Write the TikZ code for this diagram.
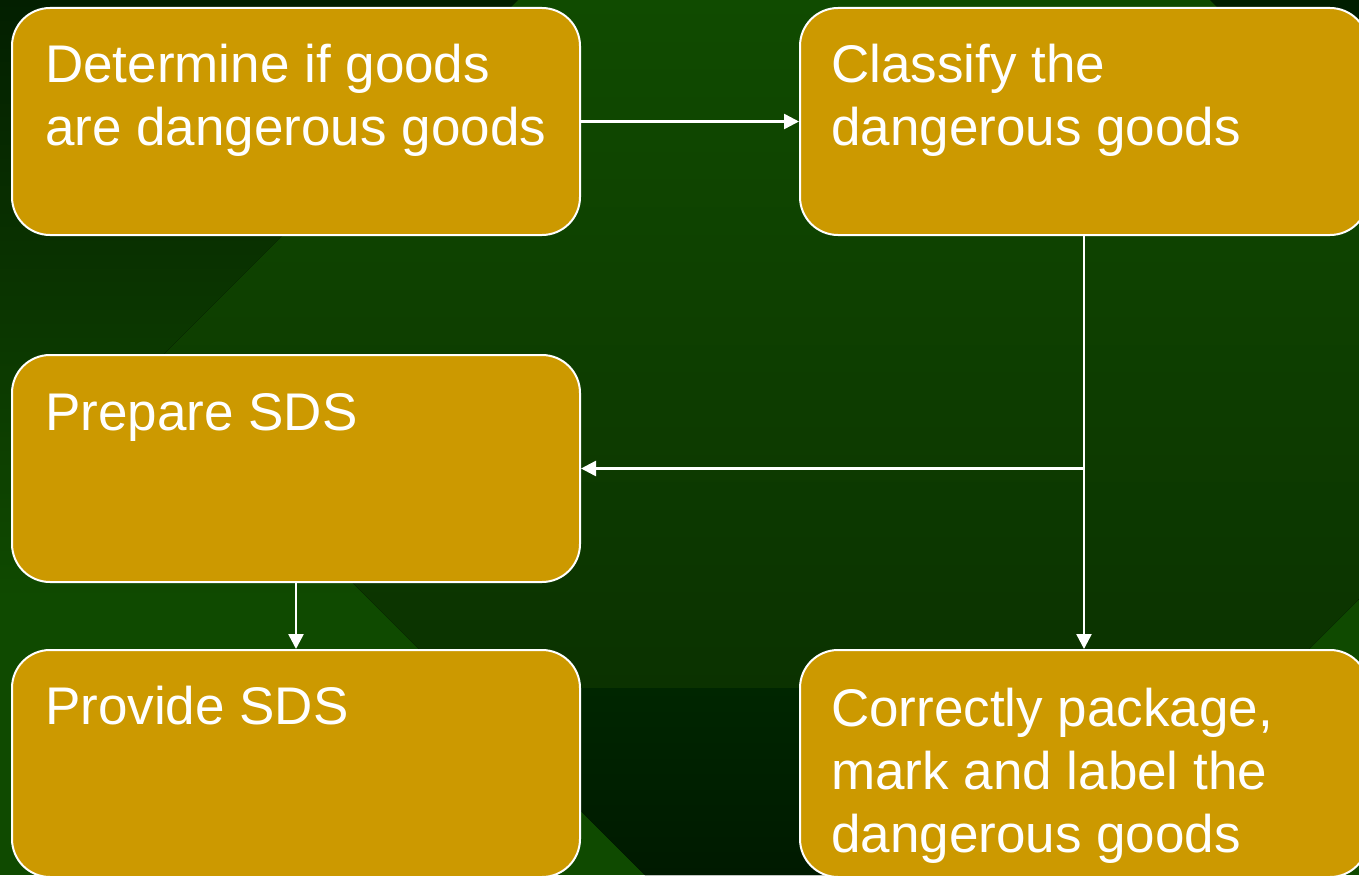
\documentclass[tikz,border=0pt]{standalone}
\usepackage{fontspec}
\setmainfont{Liberation Sans}
\usetikzlibrary{arrows.meta}
\definecolor{gold}{HTML}{CC9900}
\definecolor{bgbase}{HTML}{0F4A00}
\definecolor{bgtop}{HTML}{104B00}
\definecolor{bgmid}{HTML}{0B3200}
\definecolor{bgdarkA}{HTML}{002600}
\definecolor{bgdarkB}{HTML}{001A00}
\definecolor{bgcorner}{HTML}{001E00}
\definecolor{bgleftA}{HTML}{031F00}
\definecolor{bgleftB}{HTML}{0B3700}
\begin{document}
\begin{tikzpicture}[x=1pt,y=-1pt,
  box/.style={draw=white, line width=2pt, fill=gold, rounded corners=38pt,
    minimum width=568pt, minimum height=227pt, inner sep=0pt},
  txt/.style={anchor=base west, inner sep=0pt, text=white,
    font=\fontsize{53}{63}\selectfont},
  arr/.style={draw=white, line width=2.5pt, -{Triangle[length=15pt,width=15pt]}}]
\clip (0,0) rectangle (1359,875);
% background
\fill[bgbase] (0,0) rectangle (1359,875);
\begin{scope}
  \clip (0,0) -- (518,0) -- (144,374) -- (645,875) -- (0,875) -- cycle;
  \fill[top color=bgleftA, bottom color=bgleftB] (0,0) rectangle (1359,330);
  \fill[top color=bgleftB, bottom color=bgbase] (0,330) rectangle (1359,600);
\end{scope}
\fill[top color=bgtop, bottom color=bgmid] (518,0) -- (1210,0) -- (1359,149) -- (1359,599)
  -- (1270,688) -- (458,688) -- (144,374) -- cycle;
\fill[bgcorner] (1210,0) -- (1359,0) -- (1359,149) -- cycle;
\fill[top color=bgdarkA, bottom color=bgdarkB] (458,688) -- (1270,688) -- (1083,875) -- (645,875) -- cycle;
% boxes
\node[box] (a) at (296,121.5) {};
\node[box] (b) at (1084,121.5) {};
\node[box] (c) at (296,468.5) {};
\node[box] (d) at (296,763.5) {};
\node[box] (e) at (1084,763.5) {};
% texts
\node[txt] (ta) at (45,82) {\parbox[t]{540pt}{Determine if goods\\are dangerous goods}};
\node[txt] (tb) at (831,82) {\parbox[t]{540pt}{Classify the\\dangerous goods}};
\node[txt] (tc) at (45,430) {Prepare SDS};
\node[txt] (td) at (45,724) {Provide SDS};
\node[txt] (te) at (831,726) {\parbox[t]{540pt}{Correctly package,\\mark and label the\\dangerous goods}};
% connectors
\coordinate (split) at (b.south |- c.east);
\draw[arr] (a.east) -- (b.west);
\draw[arr] (b.south) -- (e.north);
\draw[arr] (split) -- (c.east);
\draw[arr] (c.south) -- (d.north);
\end{tikzpicture}
\end{document}
